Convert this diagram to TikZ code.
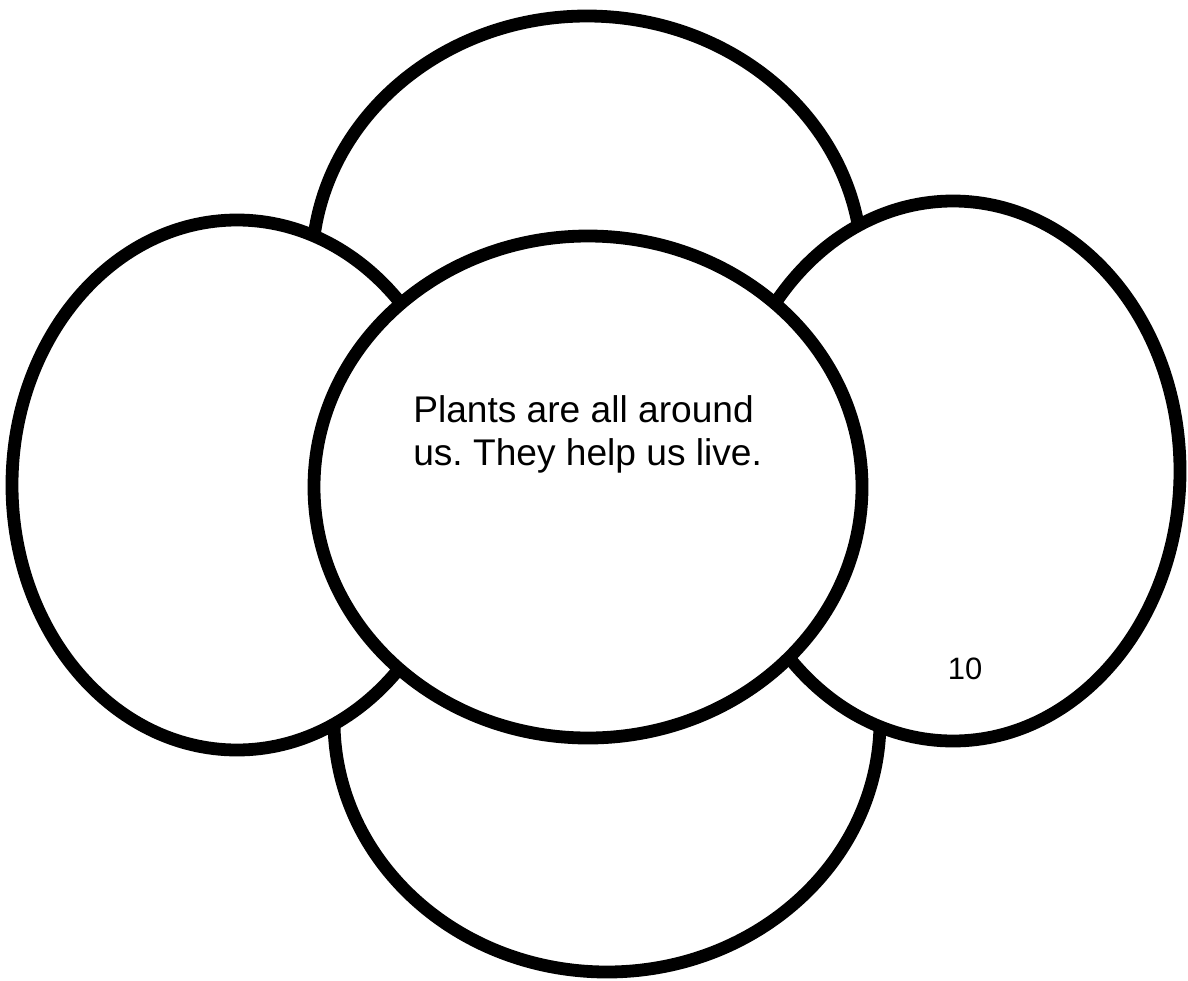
\documentclass[tikz,border=0pt]{standalone}
\usepackage{fontspec}
\newfontfamily\petalfont{Liberation Sans}
\frenchspacing

\begin{document}
\begin{tikzpicture}[x=0.025cm, y=-0.025cm,
  petal/.style={draw=black, fill=white, line width=0.32cm},
  words/.style={inner sep=0pt, font=\petalfont\fontsize{26.4}{29.9}\selectfont}]
  \useasboundingbox (0,0) rectangle (1188,980);

  % Upper and lower petals
  \draw[petal] (587,267) ellipse [x radius=275, y radius=251];
  \draw[petal] (607,721) ellipse [x radius=273, y radius=251];

  % Side petals
  \draw[petal] (237,485) ellipse [x radius=225, y radius=265];
  \draw[petal] (953,471) ellipse [x radius=227, y radius=270];

  % Middle of the flower
  \draw[petal] (588,487) ellipse [x radius=274, y radius=251];

  % Texts
  \node[words, anchor=base west, align=left] (blurb) at (413,465)
    {Plants are all around\\us. They help us live.};
  \node[words, font=\petalfont\fontsize{22}{26}\selectfont] (pagenum) at (965,669) {10};
\end{tikzpicture}
\end{document}
